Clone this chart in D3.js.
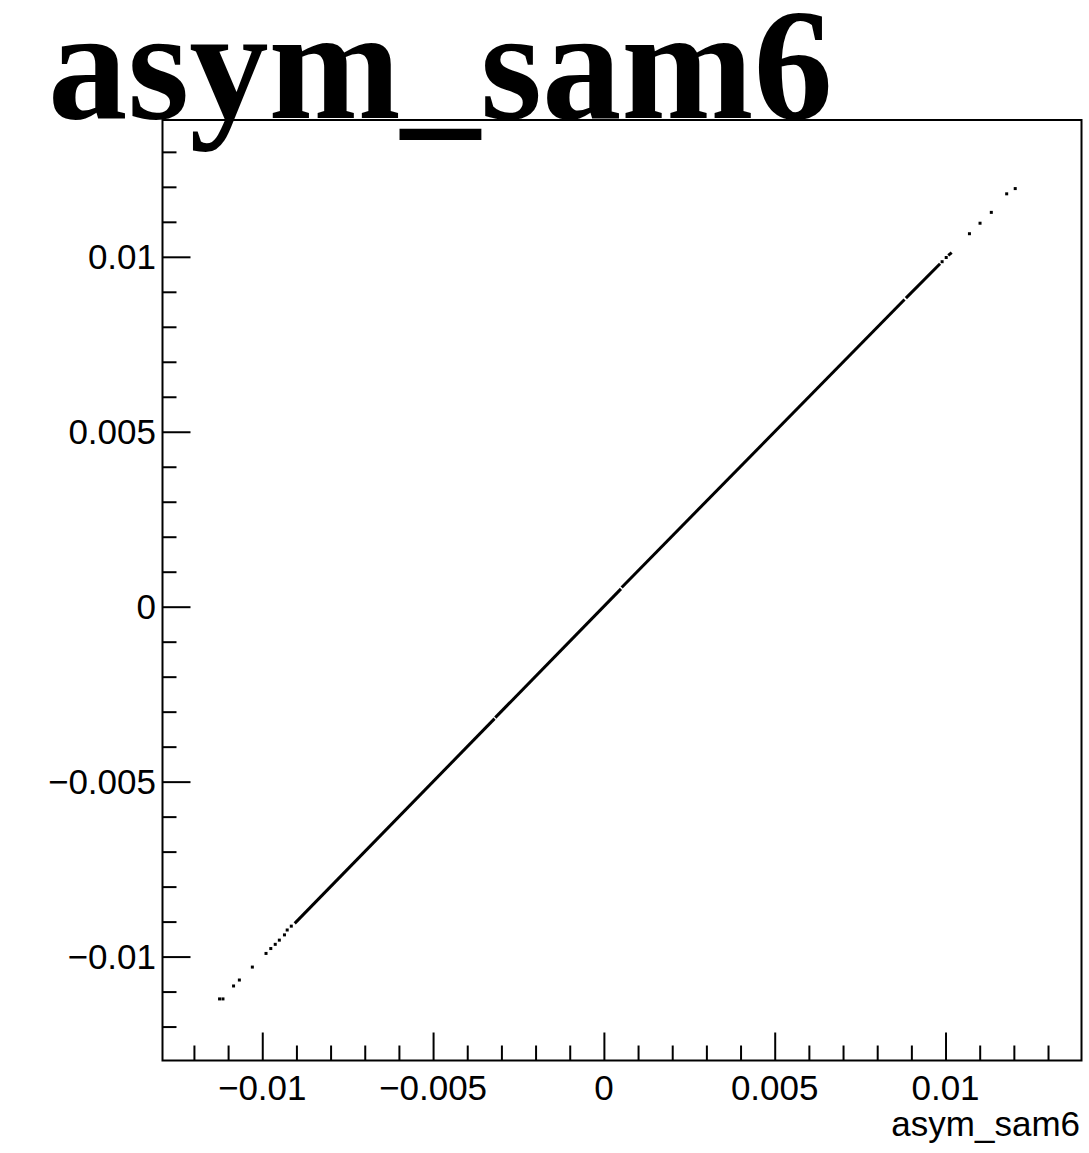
<!DOCTYPE html>
<html>
<head>
<meta charset="utf-8">
<script src="https://cdn.jsdelivr.net/npm/d3@7"></script>
<style>
  html, body { margin: 0; padding: 0; background: #fff; }
  svg { display: block; }
</style>
</head>
<body>
<svg id="chart" width="1089" height="1153"></svg>
<script>
// ---- data ----
const titleText = "asym_sam6";
const xAxisTitle = "asym_sam6";
const xDomain = [-0.01292, 0.01398];
const yDomain = [-0.01297, 0.01391];
const majorTicks = [-0.01, -0.005, 0, 0.005, 0.01];
const majorTickLabels = ["\u22120.01", "\u22120.005", "0", "0.005", "0.01"];
const minorTickValues = [-0.012, -0.011, -0.010, -0.009, -0.008, -0.007, -0.006, -0.005,
  -0.004, -0.003, -0.002, -0.001, 0, 0.001, 0.002, 0.003, 0.004, 0.005, 0.006,
  0.007, 0.008, 0.009, 0.010, 0.011, 0.012, 0.013];

// isolated scatter points at both ends of the distribution
const sparsePoints = [
  [-0.01125, -0.01121], [-0.01115, -0.01121], [-0.01084, -0.01084],
  [-0.01067, -0.01067], [-0.01029, -0.01030], [-0.00989, -0.00991],
  [-0.00975, -0.00977], [-0.00962, -0.00965], [-0.00950, -0.00953],
  [-0.00935, -0.00938], [-0.00927, -0.00924], [-0.00915, -0.00913],
  [0.00990, 0.00986], [0.01002, 0.00998],
  [0.01070, 0.01066], [0.01101, 0.01096], [0.01134, 0.01127],
  [0.01179, 0.01180], [0.01204, 0.01195]
];
// densely populated region (points overlap into a continuous track)
const denseTracks = [
  [[-0.00905, -0.00905], [-0.00320, -0.00320]],
  [[-0.00318, -0.00317], [0.00050, 0.00051]],
  [[0.00052, 0.00055], [0.00880, 0.00878]],
  [[0.00884, 0.00882], [0.00984, 0.00980]],
  [[0.01008, 0.01004], [0.01018, 0.01012]]
];

// ---- drawing ----
const svg = d3.select("#chart");
const L = 162.5, R = 1081.5, T = 120, B = 1060.5;
const x = d3.scaleLinear().domain(xDomain).range([L, R]);
const y = d3.scaleLinear().domain(yDomain).range([B, T]);
const isMajor = d => majorTicks.some(m => Math.abs(m - d) < 1e-9);

// x axis (ticks pointing up, inside frame)
const xAxis = d3.axisTop(x)
  .tickValues(minorTickValues.filter(v => v > xDomain[0] && v < xDomain[1]))
  .tickSize(15).tickFormat("");
const gx = svg.append("g").attr("transform", `translate(0,${B})`).call(xAxis);
gx.select(".domain").remove();
gx.selectAll(".tick line")
  .attr("stroke", "#000").attr("stroke-width", 2)
  .attr("y2", d => isMajor(d) ? -28 : -15);

// y axis (ticks pointing right, inside frame)
const yAxis = d3.axisRight(y)
  .tickValues(minorTickValues.filter(v => v > yDomain[0] && v < yDomain[1]))
  .tickSize(14).tickFormat("");
const gy = svg.append("g").attr("transform", `translate(${L},0)`).call(yAxis);
gy.select(".domain").remove();
gy.selectAll(".tick line")
  .attr("stroke", "#000").attr("stroke-width", 2)
  .attr("x2", d => isMajor(d) ? 28 : 14);

// frame
svg.append("rect")
  .attr("x", L).attr("y", T).attr("width", R - L).attr("height", B - T)
  .attr("fill", "none").attr("stroke", "#000").attr("stroke-width", 2);

// tick labels
const labelFont = "'Liberation Sans', Arial, Helvetica, sans-serif";
svg.append("g").selectAll("text").data(majorTicks).join("text")
  .attr("x", d => x(d)).attr("y", 1100)
  .attr("text-anchor", "middle")
  .attr("font-family", labelFont)
  .attr("font-size", 35)
  .text((d, i) => majorTickLabels[i]);

svg.append("g").selectAll("text").data(majorTicks).join("text")
  .attr("x", 156).attr("y", d => y(d) + 12.5)
  .attr("text-anchor", "end")
  .attr("font-family", labelFont)
  .attr("font-size", 35)
  .text((d, i) => majorTickLabels[i]);

// x axis title
svg.append("text")
  .attr("x", 1080).attr("y", 1136)
  .attr("text-anchor", "end")
  .attr("font-family", labelFont)
  .attr("font-size", 35)
  .text(xAxisTitle);

// data
const line = d3.line().x(d => x(d[0])).y(d => y(d[1]));
svg.append("g").selectAll("path").data(denseTracks).join("path")
  .attr("d", line)
  .attr("fill", "none").attr("stroke", "#000").attr("stroke-width", 3);

svg.append("g").selectAll("rect").data(sparsePoints).join("rect")
  .attr("x", d => x(d[0]) - 1.5).attr("y", d => y(d[1]) - 1.5)
  .attr("width", 3).attr("height", 3).attr("fill", "#000");

// title
svg.append("text")
  .attr("x", 48).attr("y", 118)
  .attr("font-family", "'Liberation Serif', 'Times New Roman', serif")
  .attr("font-weight", "bold")
  .attr("font-size", 158)
  .attr("textLength", 785)
  .attr("lengthAdjust", "spacingAndGlyphs")
  .text(titleText);
</script>
</body>
</html>
